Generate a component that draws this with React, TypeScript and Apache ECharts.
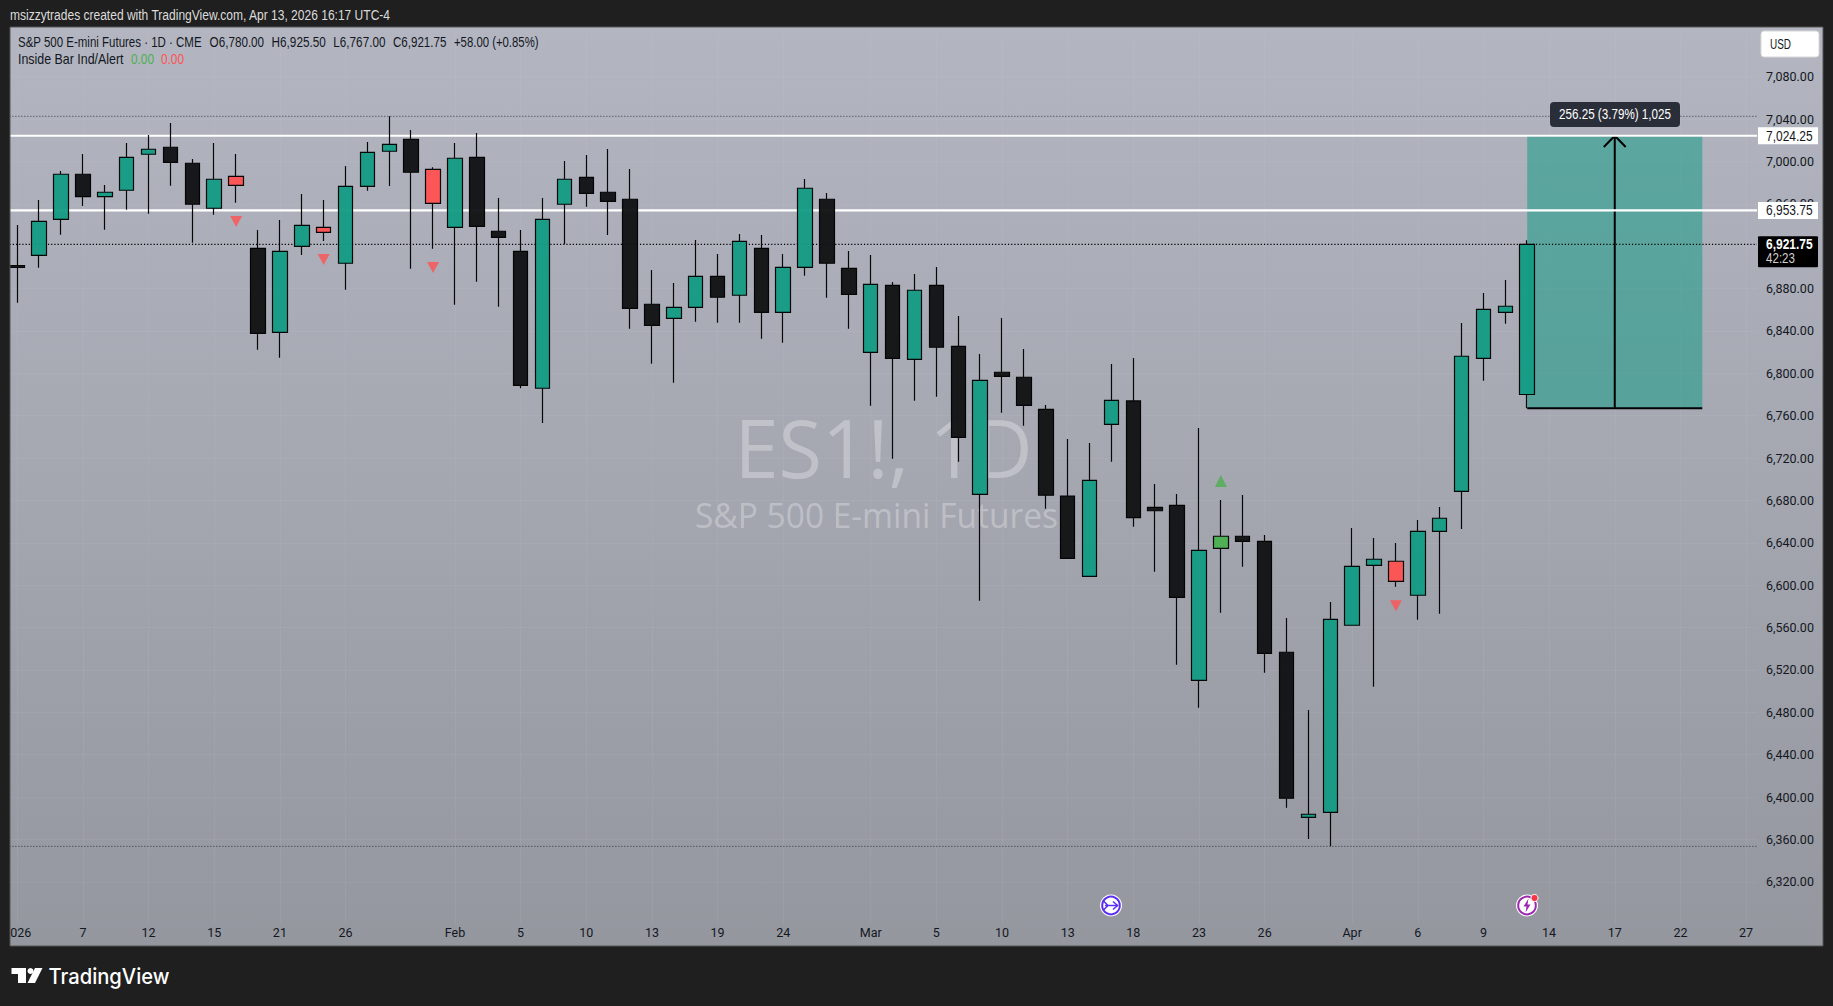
import React, { useEffect, useRef } from "react";
import * as echarts from "echarts";

const dayLabels = [
  "2026","","","7","","","12","","","15","","","21","","","26","","","","","Feb","","","5","","","10","","","13","","","19","","","24","","","","Mar","","","5","","","10","","","13","","","18","","","23","","","26","","","","Apr","","","6","","","9","","","14","","","17","","","22","","","27",
];
const kinds = [
  "b","t","t","b","t","t","t","b","b","t","r","b","t","t","r","t","t","t","b","r",
  "t","b","b","b","t","t","b","b","b","b","t","t","b","t","b","t","t","b","b","t",
  "b","t","b","b","t","b","b","b","b","t","t","b","b","b","t","g","b","b","b","t",
  "t","t","t","r","t","t","t","t","t","t",
];
const opens = [
  6901.8,6911.4,6945.4,6987.9,6966.7,6972.8,7006.8,7013.4,6998.3,6955.8,6977.5,6918.0,6838.7,6919.9,6933.1,6903.9,6976.5,7009.6,7020.9,6960.5,
  6937.8,7003.9,6934.1,6915.2,6785.9,6959.6,6985.0,6970.9,6964.3,6865.2,6851.9,6862.3,6891.6,6873.7,6918.0,6857.6,6900.1,6964.3,6899.1,6819.8,
  6883.1,6813.2,6883.1,6825.5,6685.8,6801.0,6796.3,6766.0,6684.2,6608.4,6751.9,6773.9,6673.5,6675.4,6510.2,6634.8,6646.2,6641.4,6536.7,6380.9,
  6385.6,6562.2,6618.8,6603.7,6590.5,6650.9,6688.6,6814.2,6857.6,6780.0,
];
const closes = [
  6899.9,6943.5,6987.9,6966.7,6970.9,7003.9,7011.5,6999.2,6959.6,6983.2,6986.0,6837.8,6915.2,6939.7,6937.8,6976.5,7008.6,7016.2,6989.8,6992.6,
  7003.0,6938.8,6928.4,6788.7,6945.4,6983.2,6969.9,6962.4,6861.4,6845.3,6862.3,6891.6,6871.8,6924.6,6857.6,6900.1,6974.7,6903.9,6874.6,6884.0,
  6814.2,6878.4,6824.6,6739.6,6793.4,6797.2,6769.8,6684.9,6625.4,6699.0,6774.5,6663.7,6670.3,6588.6,6632.9,6646.2,6641.4,6535.7,6398.9,6383.8,
  6567.8,6617.8,6624.5,6622.6,6650.9,6663.2,6816.1,6860.4,6863.3,6921.75,
];
const lows = [
  6866.7,6899.7,6930.9,6958.0,6935.6,6954.5,6950.7,6977.1,6923.3,6949.7,6961.1,6822.3,6814.8,6911.7,6924.9,6878.9,6972.4,6976.8,6898.8,6917.6,
  6864.8,6886.5,6862.9,6785.9,6753.1,6921.8,6957.3,6930.6,6842.1,6809.1,6791.2,6848.7,6847.8,6847.8,6832.7,6828.9,6892.2,6871.4,6842.1,6769.4,
  6719.4,6774.2,6777.9,6716.6,6585.4,6762.8,6750.6,6672.2,6625.4,6608.4,6716.6,6655.2,6612.8,6525.0,6484.4,6574.0,6617.5,6517.4,6390.0,6360.4,
  6353.5,6562.2,6504.2,6598.6,6567.4,6573.1,6653.1,6793.0,6846.8,6767.0,
];
const highs = [
  6940.0,6963.6,6991.0,7007.0,6977.8,7017.4,7025.0,7036.3,7002.3,7017.4,7007.0,6935.3,6944.7,6969.3,6963.6,6995.7,7018.4,7042.6,7029.7,6994.5,
  7017.4,7026.9,6965.5,6935.3,6965.5,7000.4,7006.1,7011.8,6992.9,6897.5,6885.3,6925.9,6912.6,6931.5,6930.6,6912.6,6983.4,6970.2,6915.5,6911.7,
  6886.2,6893.8,6900.4,6854.1,6818.2,6852.2,6823.0,6770.1,6738.0,6734.2,6808.8,6814.5,6695.5,6686.1,6748.4,6680.4,6685.2,6647.4,6569.0,6482.2,
  6584.2,6654.0,6644.6,6639.8,6661.6,6673.8,6847.5,6875.8,6888.1,6925.5,
];
const sellSignals = [[10, 6943.2],[14, 6907.4],[19, 6899.9],[63, 6580.6]];
const buySignals = [[55, 6698.4]];
const resistanceLevels = [7024.25, 6953.75];
const dottedLevels = [7042.6, 6353.5];
const lastPrice = 6921.75;
const positionEntry = 6767;
const positionTarget = 7024.25;
const positionSpan = [69, 77, 73];
const arrowHeadPrice = 7013.6;

const teal = "#149b84", black = "#111214", red = "#ff5252", green = "#4caf50";
const kindColor: Record<string, string> = { t: teal, b: black, r: red, g: green };

const W = 1833, H = 1006;
const pxPerPt = 1.0594;
const yAt = (p: number) => 415.7 - (p - 6760) * pxPerPt;
const FONT = '"Liberation Sans",sans-serif';
const AXIS_FONT = 'Roboto,"Liberation Sans",sans-serif';

const measureCtx = document.createElement("canvas").getContext("2d")!;
// the text is drawn tall and narrow: a target width squeezes it horizontally
const txt = (x: number, y: number, text: string, fill: string, width: number, size = 14, extra: any = {}) => {
  const font = `${extra.weight || "normal"} ${size}px ${extra.family || FONT}`;
  measureCtx.font = font;
  return {
    type: "text", z: extra.z ?? 60, silent: true, x, y, scaleX: width / measureCtx.measureText(text).width,
    style: { x: 0, y: 0, text, fill, font, textAlign: extra.align || "left", textVerticalAlign: "middle" },
  };
};
const lineSeries = (data: number[][], color: string, width: number, z: number, type: any = "solid", opacity = 1) => ({
  type: "line", xAxisIndex: 1, yAxisIndex: 0, data, symbol: "none", silent: true, z, animation: false,
  lineStyle: { color, width, type, opacity, cap: "butt" },
});
const money = (v: number) => v.toLocaleString("en-US", { minimumFractionDigits: 2 });

export default function App() {
  const ref = useRef<HTMLDivElement>(null);
  useEffect(() => {
    document.body.style.margin = "0";
    document.body.style.background = "#1f1f1f";
    const chart = echarts.init(ref.current!, null, { renderer: "svg" });
    const candles = opens.map((o, i) => {
      const c = kindColor[kinds[i]];
      return {
        value: [o, closes[i], lows[i], highs[i]],
        itemStyle: { color: c, color0: c, borderColor: "#000", borderColor0: "#000", borderWidth: 1.2, opacity: 0.96 },
      };
    });
    const [pL, pR, pM] = positionSpan;
    const graphic: any[] = [
      { type: "rect", z: 0, silent: true, shape: { x: 10, y: 27, width: 1813, height: 919 },
        style: { fill: new echarts.graphic.LinearGradient(0, 0, 0, 1, [
          { offset: 0, color: "#b3b6c1" }, { offset: 1, color: "#95979f" },
        ]) } },
      txt(883.5, 447, "ES1!, 1D", "rgba(255,255,255,0.3)", 298, 80, { family: '"Open Sans",sans-serif', weight: "500", align: "center", z: 1 }),
      txt(876.5, 514, "S&P 500 E-mini Futures", "rgba(255,255,255,0.3)", 363, 35, { family: '"Open Sans",sans-serif', weight: "500", align: "center", z: 1 }),
      { type: "rect", z: 50, silent: true, shape: { x: 0, y: 0, width: 10, height: H }, style: { fill: "#1f1f1f" } },
      { type: "rect", z: 51, silent: true, shape: { x: 10, y: 27, width: 1813, height: 919 }, style: { fill: "none", stroke: "#555", lineWidth: 1 } },
      txt(10, 15, "msizzytrades created with TradingView.com, Apr 13, 2026 16:17 UTC-4", "#dcdcdc", 381),
      txt(18, 42, "S&P 500 E-mini Futures · 1D · CME", "#131722", 184),
      txt(209.6, 42, "O6,780.00", "#131722", 54.6),
      txt(271.6, 42, "H6,925.50", "#131722", 54.2),
      txt(333.3, 42, "L6,767.00", "#131722", 52.2),
      txt(393, 42, "C6,921.75", "#131722", 53.4),
      txt(454, 42, "+58.00 (+0.85%)", "#131722", 84.6),
      txt(18, 59, "Inside Bar Ind/Alert", "#131722", 105.6),
      txt(131, 59, "0.00", "#4caf50", 23),
      txt(161, 59, "0.00", "#ff5252", 23),
      // USD button
      { type: "rect", z: 55, silent: true, shape: { x: 1761, y: 31, width: 58, height: 26, r: 3 }, style: { fill: "#fff", stroke: "#d8d8d8", lineWidth: 1 } },
      txt(1770, 44.5, "USD", "#131722", 21),
      // price tags
      ...resistanceLevels.flatMap((lv) => [
        { type: "rect", z: 55, silent: true, shape: { x: 1758, y: yAt(lv) - 8.5, width: 60, height: 17 }, style: { fill: "#fff" } },
        txt(1766, yAt(lv), money(lv), "#131722", 46.7),
      ]),
      { type: "rect", z: 55, silent: true, shape: { x: 1758, y: yAt(lastPrice) - 8, width: 60, height: 31, r: 1 }, style: { fill: "#000" } },
      txt(1766, yAt(lastPrice) - 0.5, money(lastPrice), "#fff", 46.7, 14, { weight: "bold" }),
      txt(1766, yAt(lastPrice) + 13.5, "42:23", "#cfcfcf", 29),
      // tooltip
      { type: "rect", z: 55, silent: true, shape: { x: 1550, y: 102, width: 130, height: 25, r: 4 }, style: { fill: "#2a2e39" } },
      txt(1615, 113.7, "256.25 (3.79%) 1,025", "#fff", 112, 14, { align: "center" }),
      // icons
      { type: "circle", z: 55, silent: true, shape: { cx: 1111, cy: 905.5, r: 11 }, style: { fill: "#fff" } },
      { type: "circle", z: 56, silent: true, shape: { cx: 1111, cy: 905.5, r: 8.8 }, style: { fill: "#fff", stroke: "#5b2df5", lineWidth: 2 } },
      { type: "polyline", z: 57, silent: true, shape: { points: [[1103, 900.5], [1108, 905.5], [1103, 910.5]] }, style: { fill: "none", stroke: "#5b2df5", lineWidth: 1.5 } },
      { type: "polyline", z: 57, silent: true, shape: { points: [[1105, 905.5], [1118, 905.5]] }, style: { fill: "none", stroke: "#5b2df5", lineWidth: 1.5 } },
      { type: "polyline", z: 57, silent: true, shape: { points: [[1113, 901.5], [1117.5, 905.5], [1113, 909.5]] }, style: { fill: "none", stroke: "#5b2df5", lineWidth: 1.5 } },
      { type: "circle", z: 55, silent: true, shape: { cx: 1527, cy: 905.5, r: 11 }, style: { fill: "#fff" } },
      { type: "circle", z: 56, silent: true, shape: { cx: 1527, cy: 905.5, r: 8.8 }, style: { fill: "#fff", stroke: "#9c27b0", lineWidth: 2 } },
      { type: "polygon", z: 57, silent: true, shape: { points: [[1528.5, 898.5], [1523.5, 906.5], [1526.5, 906.5], [1525.5, 912.5], [1530.5, 904.5], [1527.5, 904.5]] }, style: { fill: "#9c27b0" } },
      { type: "circle", z: 58, silent: true, shape: { cx: 1534.5, cy: 898, r: 3.6 }, style: { fill: "#f23645", stroke: "#fff", lineWidth: 1 } },
      // logo
      { type: "polygon", z: 55, silent: true, shape: { points: [[11.5, 968], [26, 968], [26, 983], [18, 983], [18, 974], [11.5, 974]] }, style: { fill: "#fff" } },
      { type: "circle", z: 55, silent: true, shape: { cx: 30.5, cy: 971, r: 3 }, style: { fill: "#fff" } },
      { type: "polygon", z: 55, silent: true, shape: { points: [[35, 968], [42.5, 968], [35, 983], [27.5, 983]] }, style: { fill: "#fff" } },
      txt(48.5, 976.5, "TradingView", "#fff", 121, 21, { family: '"Inter",sans-serif', weight: "500" }),
    ];
    chart.setOption({
      animation: false,
      backgroundColor: "#1f1f1f",
      graphic,
      grid: { left: 6.36, top: yAt(7120), width: 1750.64, height: 840 * pxPerPt, containLabel: false },
      xAxis: [
        {
          type: "category", data: dayLabels, boundaryGap: true,
          axisLine: { show: false }, axisTick: { show: false },
          axisLabel: { interval: 0, margin: 2, color: "#131722", fontSize: 12.5, fontFamily: AXIS_FONT, hideOverlap: false },
          splitLine: { show: true, alignWithLabel: true, interval: (i: number) => dayLabels[i] !== "", lineStyle: { color: "rgba(240,243,250,0.06)", width: 1 } },
        },
        { type: "value", min: -0.5, max: 79.5, show: false, splitLine: { show: false } },
      ],
      yAxis: {
        type: "value", position: "right", min: 6280, max: 7120, interval: 40, scale: true,
        axisLine: { show: false }, axisTick: { show: false },
        axisLabel: {
          margin: 9, color: "#131722", fontSize: 12.5, fontFamily: AXIS_FONT, padding: [0, 0, 3, 0],
          formatter: (v: number) => (v === 6280 || v === 7120 ? "" : money(v)),
        },
        splitLine: { show: true, showMinLine: false, showMaxLine: false, lineStyle: { color: "rgba(240,243,250,0.06)", width: 1 } },
      },
      series: [
        {
          type: "line", xAxisIndex: 1, yAxisIndex: 0, data: [], symbol: "none", z: 2, silent: true,
          markArea: { silent: true, itemStyle: { color: "rgba(8,153,129,0.5)" }, data: [[{ coord: [pL, positionTarget] }, { coord: [pR, positionEntry] }]] },
        },
        lineSeries([[pL, positionTarget], [pR, positionTarget]], "#000", 1.2, 3),
        lineSeries([[pL, positionEntry], [pR, positionEntry]], "#000", 2, 3),
        lineSeries([[pM, positionEntry], [pM, positionTarget]], "#000", 2, 3),
        lineSeries([[pM - 0.5, arrowHeadPrice], [pM, positionTarget], [pM + 0.5, arrowHeadPrice]], "#000", 2, 3),
        ...resistanceLevels.map((lv) => lineSeries([[-0.5, lv], [79.5, lv]], "#fff", 2.2, 4)),
        ...dottedLevels.map((lv) => lineSeries([[-0.5, lv], [79.5, lv]], "#131722", 1, 4, [1, 2], 0.8)),
        lineSeries([[-0.5, lastPrice], [79.5, lastPrice]], "#000", 1.2, 4, [1.2, 2]),
        {
          type: "candlestick", xAxisIndex: 0, yAxisIndex: 0, data: candles, barWidth: 15, z: 5, silent: true,
        },
        {
          type: "scatter", xAxisIndex: 1, yAxisIndex: 0, data: sellSignals, symbol: "triangle", symbolRotate: 180, symbolSize: [12, 11], z: 6, silent: true,
          itemStyle: { color: red },
        },
        {
          type: "scatter", xAxisIndex: 1, yAxisIndex: 0, data: buySignals, symbol: "triangle", symbolSize: [12, 12], z: 6, silent: true,
          itemStyle: { color: green },
        },
      ],
    });
    return () => chart.dispose();
  }, []);
  return <div ref={ref} style={{ width: W, height: H }} />;
}
